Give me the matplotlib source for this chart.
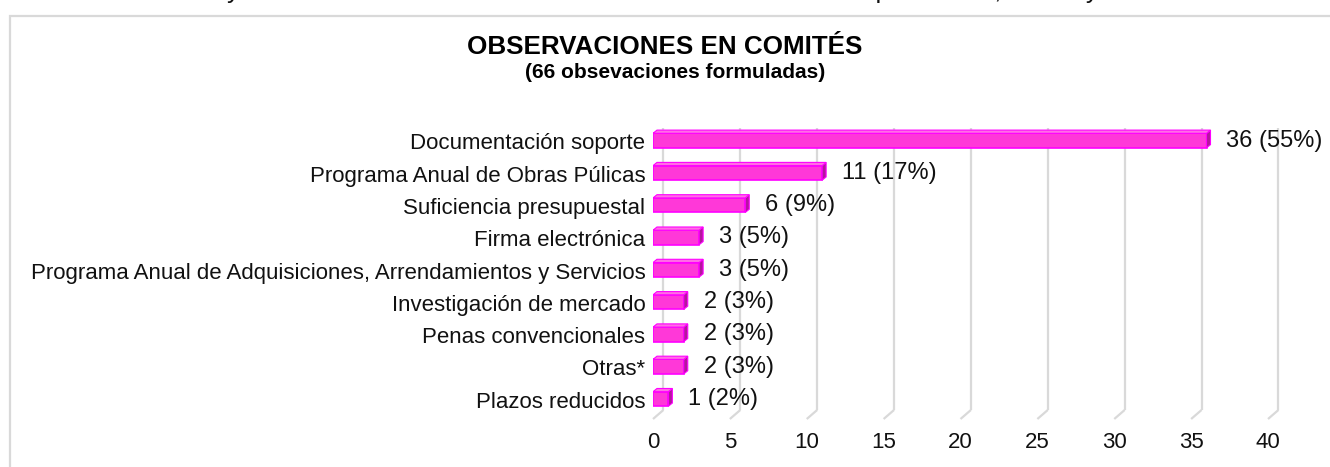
import matplotlib.pyplot as plt
from matplotlib.patches import Polygon, Rectangle

plt.rcParams["font.family"] = ["Liberation Sans", "DejaVu Sans"]

categories = [
    "Documentación soporte",
    "Programa Anual de Obras Púlicas",
    "Suficiencia presupuestal",
    "Firma electrónica",
    "Programa Anual de Adquisiciones, Arrendamientos y Servicios",
    "Investigación de mercado",
    "Penas convencionales",
    "Otras*",
    "Plazos reducidos",
]
values = [36, 11, 6, 3, 3, 2, 2, 2, 1]
percents = ["55%", "17%", "9%", "5%", "5%", "3%", "3%", "3%", "2%"]
xticks = [0, 5, 10, 15, 20, 25, 30, 35, 40]

title = "OBSERVACIONES EN COMITÉS"
subtitle = "(66 obsevaciones formuladas)"
caption = ("Gráfica 4. Rubros y número de observaciones en CAAS en Comités de "
           "Adquisiciones, Obras y Plazos Reducidos")

front = "#FF38D8"
edge = "#FF00FF"
side = "#B3179C"
top = "#FF6EE4"
grid_c = "#D9D9D9"

fig = plt.figure(figsize=(13.3, 4.67), dpi=100)

# outer chart frame (partly cut by the crop) and the clipped caption line
fig.patches.append(Rectangle((10 / 1330, -0.05), 1.1, 1 - 16 / 467 + 0.05,
                             transform=fig.transFigure, fill=False,
                             edgecolor=grid_c, linewidth=1.6))
fig.text(0.5, 1 + 2 / 467, caption, ha="center", va="baseline",
         fontsize=18.5, color="#111111")

fig.text(0.5, 1 - 47 / 467, title, ha="center", va="center",
         fontsize=18.7, fontweight="bold")
fig.text(675 / 1330, 1 - 73 / 467, subtitle, ha="center", va="center",
         fontsize=15, fontweight="bold")

ax = fig.add_axes([653 / 1330, 48 / 467, 42 * 15.375 / 1330, 291 / 467])
n = len(categories)
ypos = [n - 1 - i for i in range(n)]
y_lo, y_hi = -0.62, 8.39
ax.set_xlim(0, 42)
ax.set_ylim(y_lo, y_hi)
for s in ax.spines.values():
    s.set_visible(False)

# 3D-style gridlines: floor diagonal + back wall vertical
gdx, gdy = 0.68, 0.28
for xv in xticks:
    ax.plot([xv, xv + gdx], [y_lo, y_lo + gdy], color=grid_c, lw=1.6,
            clip_on=False, zorder=1, solid_capstyle="butt")
    ax.plot([xv + gdx, xv + gdx], [y_lo + gdy, y_hi], color=grid_c, lw=1.6,
            clip_on=False, zorder=1, solid_capstyle="butt")

h = 0.45
bdx, bdy = 0.26, 0.1
ax.barh(ypos, values, height=h, color=front, edgecolor=edge, linewidth=1.2,
        zorder=3)
for y, v, p in zip(ypos, values, percents):
    y0, y1 = y - h / 2, y + h / 2
    ax.add_patch(Polygon([(v, y0), (v + bdx, y0 + bdy), (v + bdx, y1 + bdy),
                          (v, y1)], closed=True, facecolor=side,
                         edgecolor=edge, linewidth=0.8, zorder=4))
    ax.add_patch(Polygon([(0, y1), (bdx, y1 + bdy), (v + bdx, y1 + bdy),
                          (v, y1)], closed=True, facecolor=top,
                         edgecolor=edge, linewidth=0.8, zorder=4))
    ax.text(v + 1.3, y, f"{v} ({p})", va="center", ha="left",
            fontsize=17, color="#111111")

# category labels, sitting slightly below the bar centres like the original
ytr = ax.get_yaxis_transform()
for y, cat in zip(ypos, categories):
    ax.text(-0.012, y - 0.1, cat, transform=ytr, ha="right", va="center",
            fontsize=16, color="#111111")

ax.set_yticks([])
ax.set_xticks(xticks)
ax.set_xticklabels([str(t) for t in xticks], fontsize=16)
ax.tick_params(axis="x", length=0, pad=9, colors="#111111")

fig.savefig("out.png", dpi=100)
plt.close(fig)
